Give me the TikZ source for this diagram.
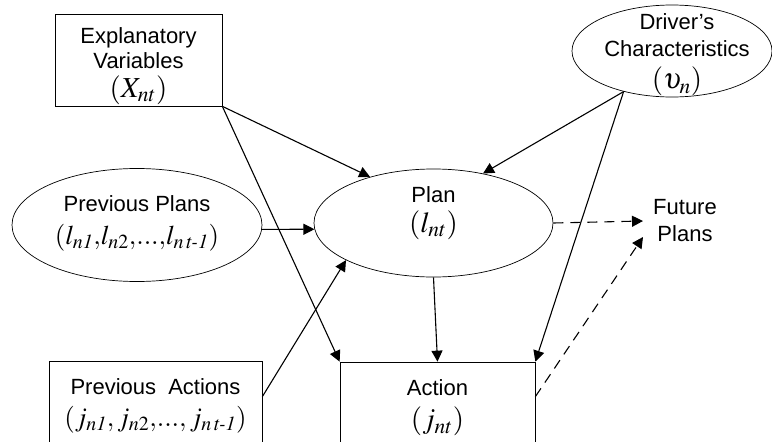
\documentclass[tikz,border=0pt]{standalone}
\usepackage{mathptmx}
\usepackage[no-math]{fontspec}
\setmainfont{Liberation Sans}
\usetikzlibrary{shapes.geometric,arrows.meta}
\DeclareMathAlphabet{\mathtm}{OT1}{ptm}{m}{it}
\newcommand\hy{\mathchar"702D\relax}
\newcommand\mth[1]{{\fontsize{29}{29}\selectfont$#1$}}
\newcommand\mthlong[1]{{\fontsize{27}{27}\selectfont$#1$}}

\begin{document}
\begin{tikzpicture}[x=1pt, y=-1pt,
    box/.style = {draw, line width=0.7pt, inner sep=0pt},
    oval/.style = {draw, ellipse, line width=0.7pt, inner sep=0pt},
    txt/.style = {align=center, font=\fontsize{22}{27}\selectfont},
    arr/.style = {-{Triangle[length=11pt, width=11pt]}, line width=1.1pt},
    fut/.style = {arr, dash pattern=on 10pt off 7pt}]
    \useasboundingbox (0,0) rectangle (772,442);
    \clip (0,0) rectangle (772,442);

    \node[box, minimum width=167pt, minimum height=92pt,
        label={[txt, yshift=-6pt]center:Explanatory\\[-2pt]Variables\\[2pt]\mth{(X_{nt})}}] (expl) at (138.5,60) {};
    \node[oval, minimum width=200pt, minimum height=92pt,
        label={[txt, xshift=5pt, yshift=-4pt]center:Driver's\\[0pt]Characteristics\\[5pt]\mth{(\upsilon_{n})}}] (driver) at (672,51) {};
    \node[oval, minimum width=250pt, minimum height=113pt,
        label={[txt, yshift=2pt]center:Previous Plans\\[6pt]\mthlong{(l_{n\mathtm{1}}{,}l_{n2}{,}{...}{,}l_{n\,\mathtm{t\hy 1}})}}] (prev) at (137,225) {};
    \node[oval, minimum width=239pt, minimum height=108pt,
        label={[txt, yshift=10pt]center:Plan\\[3pt]\mth{(l_{nt})}}] (plan) at (433.5,223) {};
    \node[box, minimum width=213pt, minimum height=120pt,
        label={[txt, yshift=15pt]center:Previous\ \ Actions\\[5pt]\mthlong{(j_{n\mathtm{1}}{,}\,j_{n2}{,}{...}{,}\,j_{n\,\mathtm{t\hy 1}})}}] (acts) at (155.5,421) {};
    \node[box, minimum width=195pt, minimum height=120pt,
        label={[txt, yshift=14pt]center:Action\\[6pt]\mth{(j_{nt})}}] (action) at (437.5,422) {};
    \node[txt, inner xsep=10pt, inner ysep=0pt] (future) at (685,221) {Future\\Plans};

    \draw[arr] (expl.south east) -- (plan.144);
    \draw[arr] (expl.south east) -- (action.north west);
    \draw[arr] (driver.220) -- (plan.45);
    \draw[arr] (driver.220) -- (action.north east);
    \draw[arr] (prev.-2) -- (plan.183);
    \draw[arr] ([yshift=-36pt]acts.north east) -- (plan.203);
    \draw[arr] (plan.south) -- (action.north);
    \draw[fut] (plan.east) -- (future.west);
    \draw[fut] ([yshift=-35pt]action.north east) -- ([yshift=-16pt]future.west);
\end{tikzpicture}
\end{document}
